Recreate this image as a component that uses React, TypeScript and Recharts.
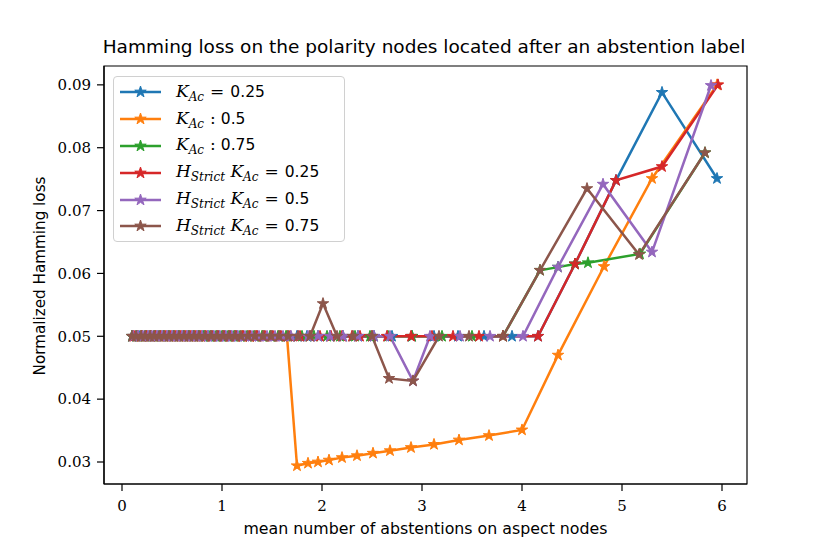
import React from 'react';
import { LineChart, Line, XAxis, YAxis, ReferenceArea } from 'recharts';

// ---- data ----
const xTicks = [0, 1, 2, 3, 4, 5, 6];
const yTicks = [0.03, 0.04, 0.05, 0.06, 0.07, 0.08, 0.09];

const blueX = [0.10,0.14,0.18,0.23,0.27,0.32,0.36,0.41,0.46,0.51,0.56,0.61,0.66,0.71,0.76,0.81,0.86,0.91,0.97,1.03,1.09,1.15,1.21,1.28,1.35,1.42,1.50,1.58,1.66,1.75,1.85,1.96,2.08,2.21,2.36,2.52,2.70,2.90,3.12,3.36,3.62,3.90,4.16,4.53,4.94,5.40,5.95];
const blueY = [0.05,0.05,0.05,0.05,0.05,0.05,0.05,0.05,0.05,0.05,0.05,0.05,0.05,0.05,0.05,0.05,0.05,0.05,0.05,0.05,0.05,0.05,0.05,0.05,0.05,0.05,0.05,0.05,0.05,0.05,0.05,0.05,0.05,0.05,0.05,0.05,0.05,0.05,0.05,0.05,0.05,0.05,0.05,0.0615,0.0748,0.0888,0.0751];

const orangeX = [0.11,0.15,0.19,0.24,0.28,0.33,0.38,0.43,0.48,0.53,0.58,0.63,0.68,0.73,0.78,0.83,0.89,0.95,1.01,1.07,1.13,1.20,1.27,1.34,1.41,1.49,1.57,1.65,1.75,1.86,1.96,2.07,2.20,2.35,2.51,2.68,2.89,3.12,3.37,3.67,4.00,4.36,4.82,5.30,5.95];
const orangeY = [0.05,0.05,0.05,0.05,0.05,0.05,0.05,0.05,0.05,0.05,0.05,0.05,0.05,0.05,0.05,0.05,0.05,0.05,0.05,0.05,0.05,0.05,0.05,0.05,0.05,0.05,0.05,0.05,0.0294,0.0298,0.0300,0.0303,0.0307,0.0310,0.0314,0.0318,0.0323,0.0328,0.0335,0.0342,0.0351,0.0470,0.0611,0.0751,0.0900];

const greenX = [0.10,0.15,0.20,0.24,0.29,0.33,0.38,0.42,0.47,0.52,0.57,0.62,0.67,0.72,0.77,0.82,0.88,0.94,1.00,1.06,1.12,1.18,1.25,1.32,1.40,1.48,1.56,1.64,1.80,1.92,2.05,2.18,2.33,2.48,2.66,2.90,3.20,3.50,3.81,4.18,4.36,4.53,4.66,5.18,5.83];
const greenY = [0.05,0.05,0.05,0.05,0.05,0.05,0.05,0.05,0.05,0.05,0.05,0.05,0.05,0.05,0.05,0.05,0.05,0.05,0.05,0.05,0.05,0.05,0.05,0.05,0.05,0.05,0.05,0.05,0.05,0.05,0.05,0.05,0.05,0.05,0.05,0.05,0.05,0.05,0.05,0.0605,0.0610,0.0615,0.0617,0.0631,0.0792];

const redX = [0.12,0.16,0.20,0.25,0.29,0.34,0.39,0.44,0.49,0.54,0.59,0.64,0.69,0.74,0.79,0.84,0.90,0.96,1.02,1.08,1.14,1.21,1.28,1.35,1.43,1.51,1.59,1.68,1.78,1.88,1.98,2.09,2.20,2.30,2.38,2.50,2.65,2.89,3.10,3.31,3.57,3.81,4.16,4.53,4.94,5.40,5.96];
const redY = [0.05,0.05,0.05,0.05,0.05,0.05,0.05,0.05,0.05,0.05,0.05,0.05,0.05,0.05,0.05,0.05,0.05,0.05,0.05,0.05,0.05,0.05,0.05,0.05,0.05,0.05,0.05,0.05,0.05,0.05,0.05,0.05,0.05,0.05,0.05,0.05,0.05,0.05,0.05,0.05,0.05,0.05,0.05,0.0615,0.0748,0.0770,0.0900];

const purpleX = [0.11,0.16,0.21,0.26,0.30,0.35,0.40,0.45,0.50,0.55,0.60,0.65,0.70,0.75,0.80,0.86,0.92,0.98,1.04,1.10,1.16,1.23,1.30,1.37,1.45,1.53,1.61,1.69,1.76,1.86,1.96,2.08,2.21,2.36,2.52,2.68,2.91,3.08,3.38,3.68,4.01,4.36,4.81,5.30,5.89];
const purpleY = [0.05,0.05,0.05,0.05,0.05,0.05,0.05,0.05,0.05,0.05,0.05,0.05,0.05,0.05,0.05,0.05,0.05,0.05,0.05,0.05,0.05,0.05,0.05,0.05,0.05,0.05,0.05,0.05,0.05,0.05,0.05,0.05,0.05,0.05,0.05,0.05,0.0429,0.05,0.05,0.05,0.05,0.0610,0.0742,0.0634,0.0899];

const brownX = [0.10,0.14,0.19,0.23,0.28,0.32,0.37,0.42,0.47,0.52,0.57,0.62,0.67,0.72,0.77,0.83,0.89,0.95,1.01,1.07,1.13,1.19,1.26,1.33,1.41,1.49,1.57,1.66,1.76,1.88,2.01,2.15,2.31,2.50,2.67,2.91,3.17,3.47,3.81,4.18,4.65,5.17,5.83];
const brownY = [0.05,0.05,0.05,0.05,0.05,0.05,0.05,0.05,0.05,0.05,0.05,0.05,0.05,0.05,0.05,0.05,0.05,0.05,0.05,0.05,0.05,0.05,0.05,0.05,0.05,0.05,0.05,0.05,0.05,0.05,0.0552,0.05,0.05,0.05,0.0433,0.0429,0.05,0.05,0.05,0.0605,0.0735,0.0630,0.0792];

const seriesNames = ['K1', 'K2', 'K3', 'H1', 'H2', 'H3'];
const colors = ['#1f77b4', '#ff7f0e', '#2ca02c', '#d62728', '#9467bd', '#8c564b'];

// legend labels
const legendStrict = [false, false, false, true, true, true];
const legendSep = ['=', ':', ':', '=', '=', '='];
const legendValue = ['0.25', '0.5', '0.75', '0.25', '0.5', '0.75'];

const xDomain = [-0.18, 6.25];
const yDomain = [0.0265, 0.093];

const toPoints = (xs: number[], ys: number[]) =>
  xs.slice(0, Math.min(xs.length, ys.length)).map((x, i) => ({ x, y: ys[i] }));

const series = [
  toPoints(blueX, blueY),
  toPoints(orangeX, orangeY),
  toPoints(greenX, greenY),
  toPoints(redX, redY),
  toPoints(purpleX, purpleY),
  toPoints(brownX, brownY),
];

const starPath = (cx: number, cy: number, R: number) => {
  const r = R * 0.382;
  let d = '';
  for (let i = 0; i < 10; i++) {
    const a = (-90 + i * 36) * Math.PI / 180;
    const rr = i % 2 === 0 ? R : r;
    d += (i === 0 ? 'M' : 'L') + (cx + rr * Math.cos(a)).toFixed(2) + ',' + (cy + rr * Math.sin(a)).toFixed(2);
  }
  return d + 'Z';
};

const makeDot = (color: string) => (props: any) => {
  const { cx, cy, index } = props;
  if (cx == null || cy == null) return <g key={index} />;
  return <path key={index} d={starPath(cx, cy, 6)} fill={color} stroke={color} strokeWidth={1} strokeLinejoin="round" />;
};

const serif = '"DejaVu Serif", "Liberation Serif", serif';
const sans = '"DejaVu Sans", sans-serif';

const LegendBox = () => (
  <div
    style={{
      position: 'absolute',
      left: 113,
      top: 76,
      width: 232,
      height: 166,
      boxSizing: 'border-box',
      border: '1px solid #d0d0d0',
      borderRadius: 4,
      background: 'rgba(255,255,255,0.85)',
      paddingTop: 2,
      zIndex: 2,
    }}
  >
    {seriesNames.map((n, i) => (
      <div key={n} style={{ display: 'flex', alignItems: 'center', height: 26.8, whiteSpace: 'nowrap' }}>
        <svg width={60} height={20} style={{ flex: 'none' }}>
          <line x1={6} y1={10} x2={47} y2={10} stroke={colors[i]} strokeWidth={2.5} />
          <path d={starPath(26.5, 10, 6)} fill={colors[i]} stroke={colors[i]} strokeWidth={1} strokeLinejoin="round" />
        </svg>
        <span style={{ fontFamily: serif, fontSize: 17, color: '#000', marginLeft: 2 }}>
          {legendStrict[i] ? (
            <>
              <i>H</i>
              <sub style={{ fontSize: 12, fontStyle: 'italic', verticalAlign: -4 }}>Strict</sub>
              {' '}
            </>
          ) : null}
          <i>K</i>
          <sub style={{ fontSize: 12, fontStyle: 'italic', verticalAlign: -4 }}>Ac</sub>
          <span style={{ margin: legendSep[i] === '=' ? '0 6px' : '0 5px 0 6px' }}>{legendSep[i]}</span>
          <span style={{ fontFamily: sans, fontSize: 15.5 }}>{legendValue[i]}</span>
        </span>
      </div>
    ))}
  </div>
);

export default function App() {
  return (
    <div style={{ position: 'absolute', left: 0, top: 0, width: 830, height: 554, background: '#fff' }}>
      <div
        style={{
          position: 'absolute',
          left: 100,
          width: 648,
          top: 36,
          textAlign: 'center',
          fontFamily: sans,
          fontSize: 18.5,
          color: '#000',
          whiteSpace: 'nowrap',
        }}
      >
        Hamming loss on the polarity nodes located after an abstention label
      </div>
      <div
        style={{
          position: 'absolute',
          left: 104,
          width: 643,
          top: 519,
          textAlign: 'center',
          fontFamily: sans,
          fontSize: 15.8,
          color: '#000',
          whiteSpace: 'nowrap',
        }}
      >
        mean number of abstentions on aspect nodes
      </div>
      <div
        style={{
          position: 'absolute',
          left: 40,
          top: 276,
          transform: 'translate(-50%, -50%) rotate(-90deg)',
          fontFamily: sans,
          fontSize: 15.2,
          color: '#000',
          whiteSpace: 'nowrap',
        }}
      >
        Normalized Hamming loss
      </div>
      <LineChart width={830} height={554} margin={{ top: 66, right: 83, bottom: 0, left: 0 }}>
        <XAxis
          type="number"
          dataKey="x"
          domain={xDomain}
          ticks={xTicks}
          allowDataOverflow
          height={70}
          tickSize={7}
          tickMargin={9}
          axisLine={{ stroke: '#000', strokeWidth: 1.2 }}
          tickLine={{ stroke: '#000', strokeWidth: 1.2 }}
          tick={{ fontFamily: serif, fontSize: 15, fill: '#000' }}
        />
        <YAxis
          type="number"
          domain={yDomain}
          ticks={yTicks}
          allowDataOverflow
          width={104}
          tickSize={7}
          tickMargin={6}
          tickFormatter={(v: number) => v.toFixed(2)}
          axisLine={{ stroke: '#000', strokeWidth: 1.2 }}
          tickLine={{ stroke: '#000', strokeWidth: 1.2 }}
          tick={{ fontFamily: serif, fontSize: 15, fill: '#000' }}
        />
        <ReferenceArea
          x1={xDomain[0]}
          x2={xDomain[1]}
          y1={yDomain[0]}
          y2={yDomain[1]}
          fill="none"
          fillOpacity={0}
          stroke="#000"
          strokeWidth={1.2}
          ifOverflow="visible"
        />
        {series.map((d, i) => (
          <Line
            key={seriesNames[i]}
            data={d}
            dataKey="y"
            type="linear"
            stroke={colors[i]}
            strokeWidth={2.5}
            dot={makeDot(colors[i])}
            activeDot={false}
            isAnimationActive={false}
            name={seriesNames[i]}
          />
        ))}
      </LineChart>
      <LegendBox />
    </div>
  );
}
